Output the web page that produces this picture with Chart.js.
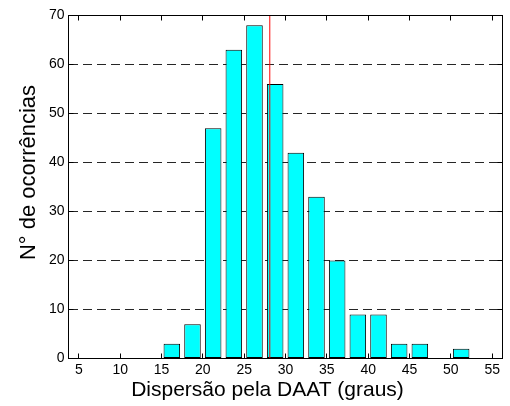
<!DOCTYPE html>
<html>
<head>
<meta charset="utf-8">
<script src="https://cdn.jsdelivr.net/npm/chart.js@4.4.0/dist/chart.umd.min.js"></script>
<style>
    html, body { margin: 0; padding: 0; background: #fff; }
</style>
</head>
<body>
<canvas id="histChart" width="510" height="406"></canvas>
<script>
// Histogram bins (degrees) and number of occurrences in each
const binCenters = [6.25, 8.75, 11.25, 13.75, 16.25, 18.75, 21.25, 23.75, 26.25, 28.75,
    31.25, 33.75, 36.25, 38.75, 41.25, 43.75, 46.25, 48.75, 51.25, 53.75];
const counts = [0, 0, 0, 0, 3, 7, 47, 63, 68, 56, 42, 33, 20, 9, 9, 3, 3, 0, 2, 0];

const xTicks = [5, 10, 15, 20, 25, 30, 35, 40, 45, 50, 55];
const yTicks = [0, 10, 20, 30, 40, 50, 60, 70];

// mean dispersion, shown as the red vertical line
const meanValue = 28.1;

const xLabel = 'Dispersão pela DAAT (graus)';
const yLabel = 'N° de ocorrências';

const FONT = '"Liberation Sans", Arial, Helvetica, sans-serif';

// box frame, inward tick marks and axis titles
const frameAndTicks = {
    id: 'frameAndTicks',
    afterDraw(chart) {
        const { ctx, chartArea: a, scales: { x, y } } = chart;
        ctx.save();
        ctx.strokeStyle = '#000';
        ctx.lineWidth = 1;
        ctx.strokeRect(a.left, a.top, a.right - a.left, a.bottom - a.top);

        ctx.beginPath();
        xTicks.forEach(v => {
            const px = Math.floor(x.getPixelForValue(v)) + 0.5;
            ctx.moveTo(px, a.bottom);
            ctx.lineTo(px, a.bottom - 5);
            ctx.moveTo(px, a.top);
            ctx.lineTo(px, a.top + 5);
        });
        yTicks.forEach(v => {
            const py = Math.floor(y.getPixelForValue(v)) + 0.5;
            ctx.moveTo(a.left, py);
            ctx.lineTo(a.left + 5, py);
            ctx.moveTo(a.right, py);
            ctx.lineTo(a.right - 5, py);
        });
        ctx.stroke();

        ctx.fillStyle = '#000';
        ctx.textAlign = 'center';
        ctx.textBaseline = 'alphabetic';
        ctx.font = '21px ' + FONT;
        ctx.fillText(xLabel, (a.left + a.right) / 2 - 18, 396);

        ctx.font = '22px ' + FONT;
        ctx.translate(35, (a.top + a.bottom) / 2 - 14.5);
        ctx.rotate(-Math.PI / 2);
        ctx.fillText(yLabel, 0, 0);
        ctx.restore();
    }
};

const ctx = document.getElementById('histChart').getContext('2d');
const histChart = new Chart(ctx, {
    type: 'bar',
    data: {
        datasets: [{
            type: 'line',
            data: [{ x: meanValue, y: yTicks[0] }, { x: meanValue, y: yTicks[yTicks.length - 1] }],
            borderColor: '#ff0000',
            borderWidth: 1,
            pointRadius: 0,
            order: 0
        }, {
            type: 'bar',
            data: binCenters.map((c, i) => ({ x: c, y: counts[i] })),
            backgroundColor: '#00ffff',
            borderColor: '#000',
            borderWidth: 1,
            borderSkipped: false,
            barPercentage: 0.8,
            categoryPercentage: 1,
            order: 1
        }]
    },
    options: {
        responsive: false,
        animation: false,
        layout: {
            padding: { top: 15.5, right: 7.5, bottom: 0, left: 0 }
        },
        plugins: {
            legend: { display: false },
            tooltip: { enabled: false }
        },
        scales: {
            x: {
                type: 'linear',
                min: 3.75,
                max: 56.25,
                offset: false,
                grid: { display: false },
                border: { display: false },
                ticks: {
                    color: '#000',
                    font: { family: FONT, size: 14 },
                    padding: -5,
                    maxRotation: 0
                },
                afterBuildTicks: s => { s.ticks = xTicks.map(v => ({ value: v })); },
                afterFit: s => { s.height = 47.5; }
            },
            y: {
                min: yTicks[0],
                max: yTicks[yTicks.length - 1],
                grid: {
                    color: 'rgba(0, 0, 0, 0.85)',
                    lineWidth: 1,
                    drawTicks: false
                },
                border: { display: false, dash: [9, 5] },
                ticks: {
                    stepSize: 10,
                    color: '#000',
                    font: { family: FONT, size: 14 },
                    padding: 4
                },
                afterFit: s => { s.width = 68.5; }
            }
        }
    },
    plugins: [frameAndTicks]
});
</script>
</body>
</html>
